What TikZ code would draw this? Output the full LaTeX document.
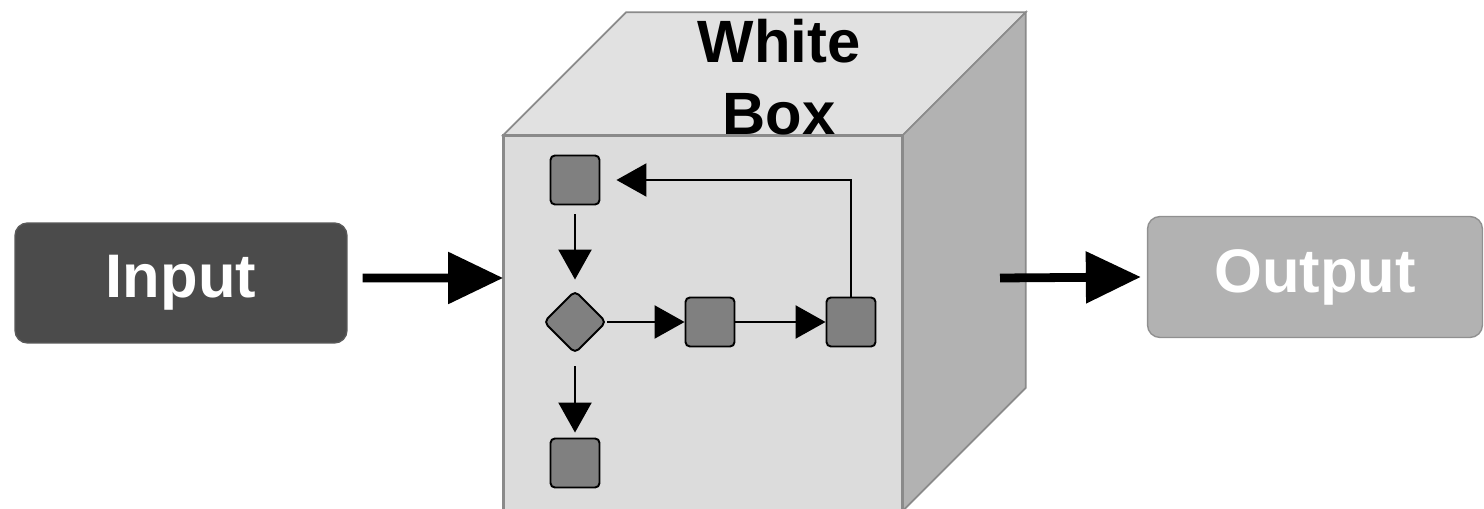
\documentclass[tikz,border=0pt]{standalone}
\usepackage{fontspec}
\setmainfont{Liberation Sans}
\usetikzlibrary{arrows.meta,shapes.geometric,calc}
\definecolor{frontc}{HTML}{DCDCDC}
\definecolor{topc}{HTML}{E1E1E1}
\definecolor{sidec}{HTML}{B2B2B2}
\definecolor{edgec}{HTML}{8A8A8A}
\definecolor{inc}{HTML}{4B4B4B}
\definecolor{inedge}{HTML}{5A5A5A}
\definecolor{outc}{HTML}{B2B2B2}
\definecolor{outedge}{HTML}{909090}
\definecolor{sqc}{HTML}{808080}
\begin{document}
\begin{tikzpicture}[x=0.02cm,y=-0.02cm,
  bigarrow/.style={line width=5pt,-{Triangle[length=1.1cm,width=1.0cm]}},
  smallarrow/.style={line width=1.3pt,-{Triangle[length=0.6cm,width=0.66cm]}},
  sqbox/.style={draw=black,line width=1.1pt,fill=sqc,rounded corners=2.5pt,minimum size=0.98cm,inner sep=0pt},
  decbox/.style={diamond,aspect=1,draw=black,line width=1.1pt,fill=sqc,rounded corners=3pt,minimum size=1.26cm,inner sep=0pt},
  iobox/.style={rounded corners=0.25cm,line width=0.8pt,text=white,font=\fontsize{35}{40}\selectfont\bfseries,inner sep=0pt},
  face/.style={draw=edgec,line width=1pt}]
\useasboundingbox[fill=white] (0,0) rectangle (1484,509);

% cube
\node[face,fill=frontc,minimum width=7.96cm,minimum height=7.48cm,inner sep=0pt] (front) at (703,323) {};
\fill[face,fill=topc] (front.north west) -- ++(123,-123) -- ($(front.north east)+(123,-123)$) -- (front.north east) -- cycle;
\fill[face,fill=sidec] (front.north east) -- ++(123,-123) -- ($(front.south east)+(123,-123)$) -- (front.south east) -- cycle;
\draw[face] (front.north west) rectangle (front.south east);
\node[align=center,anchor=north,inner sep=0pt,font=\fontsize{34}{41}\selectfont\bfseries] (title) at (779,19) {White\\Box};

% input / output
\node[iobox,fill=inc,draw=inedge,minimum width=6.64cm,minimum height=2.4cm] (in) at (181,283) {Input};
\node[iobox,fill=outc,draw=outedge,minimum width=6.7cm,minimum height=2.42cm] (out) at (1315,277) {Output};
\coordinate (ostart) at (1000,278);
\draw[bigarrow] ([xshift=0.3cm,yshift=0.1cm]in.east) -- (front.west |- 0,278);
\draw[bigarrow] (ostart) -- ([xshift=-0.12cm]out.west);

% inner flow
\node[sqbox] (a) at (575,180) {};
\node[decbox] (d) at (575,322) {};
\node[sqbox] (b) at (710,322) {};
\node[sqbox] (c) at (851,322) {};
\node[sqbox] (e) at (575,463) {};
\draw[smallarrow,shorten <=0.18cm,shorten >=0.2cm] (a) -- (d);
\draw[smallarrow,shorten <=0.24cm,shorten >=0.1cm] (d) -- (e);
\draw[smallarrow] (d) -- (b);
\draw[smallarrow] (b) -- (c);
\draw[smallarrow,shorten >=0.32cm] (c.north) |- (a.east);
\end{tikzpicture}
\end{document}
